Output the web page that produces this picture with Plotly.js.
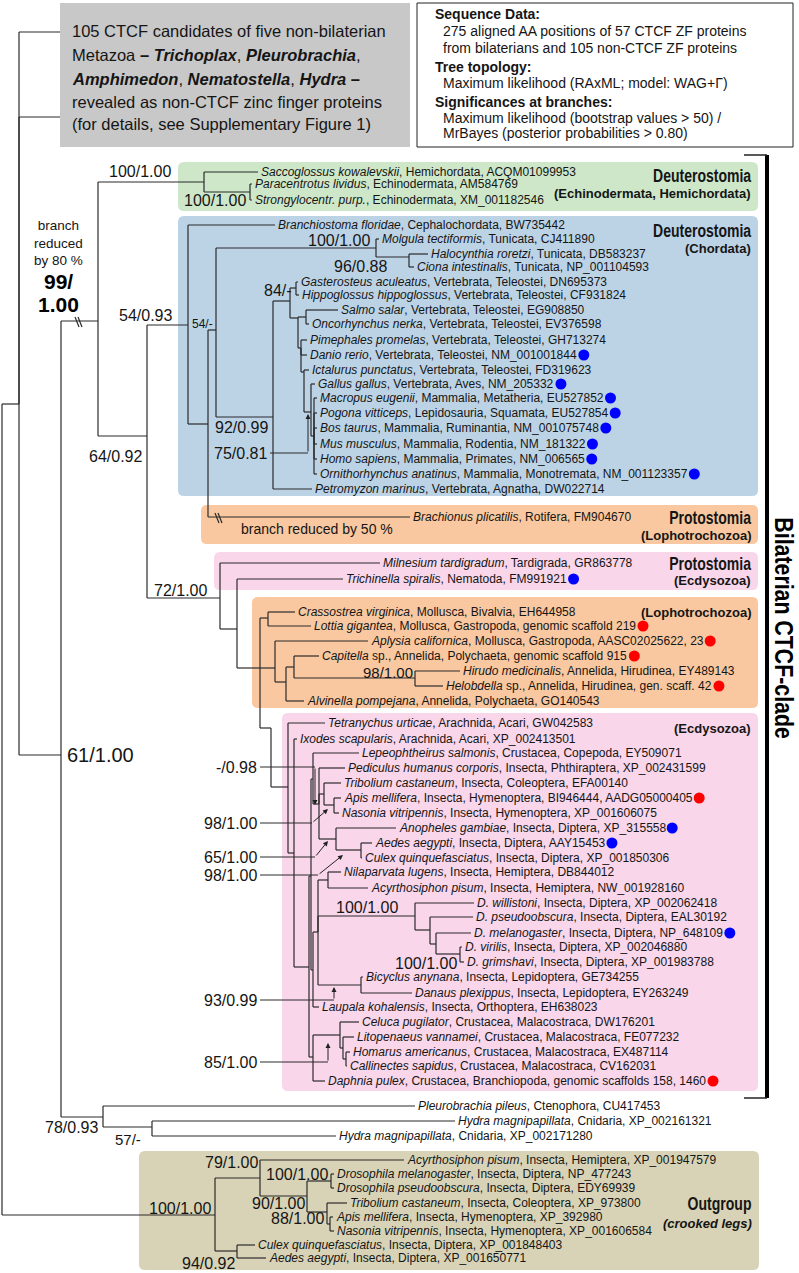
<!DOCTYPE html>
<html><head><meta charset="utf-8">
<script src="https://cdn.plot.ly/plotly-3.0.1.min.js"></script>
<style>html,body{margin:0;padding:0;background:#fff}#chart{width:799px;height:1273px}</style>
</head><body><div id="chart"></div>
<script>
// ===== Tree: internal nodes (id, parent, depth along branch axis, row) =====
const nodeIds = ['Root','Top','A','B','GR','PS','C','N','D','X','TUN','HC','V','V1','GH','V2','SO','V3','V4','TET','M1','F','G','H','CL','AG','AC','CH','HH','E0','T','I','K','M','Q','P','TAN','AN','MOS','AC2','S','R','NA','DW','DP','DM','DV','BD','CR','CLHC','LHC','HC2','W','HY','OG','O1','O2','DD','TANo','ANo','CA'];
const nodeParents = ['','Root','Top','A','B','GR','B','C','N','D','X','TUN','X','V','V1','V1','V2','V2','V3','V4','TET','C','F','G','H','H','AG','AC','CH','H','E0','T','I','K','M','Q','P','TAN','P','MOS','M','S','R','R','DW','DP','DM','R','K','CR','CLHC','LHC','A','W','Root','OG','O1','O2','O2','TANo','OG'];
const nodeDepth = [2,19,61,98,204,250,147,188,208,216,376,409,273,290,296,298,306,301,304,311,314,220,237,260,268,275,286,294,415,271,288,294,309,311,313,319,324,334,336,361,313,318,328,415,430,436,460,361,313,340,343,346,103,152,215,260,307,331,327,330,237];
const nodeRow = [810,404,755,321,182,192,436,325,424,330,248,257,417,301,288,318,317,348,372,412,436,598,629,668,618,668,682,667,678,728,787,853,967,876,779,804,794,805,839,850,970,932,880,916,930,944,954,985,1057,1035,1048,1059,1117,1127,1215,1178,1196,1181,1212,1224,1251];

// ===== Leaves =====
const leafSpecies = ['','',
'Saccoglossus kowalevskii','Paracentrotus lividus','Strongylocentr. purp.',
'Branchiostoma floridae','Molgula tectiformis','Halocynthia roretzi','Ciona intestinalis',
'Gasterosteus aculeatus','Hippoglossus hippoglossus','Salmo salar','Oncorhynchus nerka','Pimephales promelas','Danio rerio','Ictalurus punctatus',
'Gallus gallus','Macropus eugenii','Pogona vitticeps','Bos taurus','Mus musculus','Homo sapiens','Ornithorhynchus anatinus','Petromyzon marinus',
'Brachionus plicatilis',
'Milnesium tardigradum','Trichinella spiralis',
'Crassostrea virginica','Lottia gigantea','Aplysia californica','Capitella','Hirudo medicinalis','Helobdella','Alvinella pompejana',
'Tetranychus urticae','Ixodes scapularis','Lepeophtheirus salmonis','Pediculus humanus corporis','Tribolium castaneum','Apis mellifera','Nasonia vitripennis',
'Anopheles gambiae','Aedes aegypti','Culex quinquefasciatus','Nilaparvata lugens','Acyrthosiphon pisum',
'D. willistoni','D. pseudoobscura','D. melanogaster','D. virilis','D. grimshavi','Bicyclus anynana','Danaus plexippus','Laupala kohalensis',
'Celuca pugilator','Litopenaeus vannamei','Homarus americanus','Callinectes sapidus','Daphnia pulex',
'Pleurobrachia pileus','Hydra magnipapillata','Hydra magnipapillata',
'Acyrthosiphon pisum','Drosophila melanogaster','Drosophila pseudoobscura','Tribolium castaneum','Apis mellifera','Nasonia vitripennis','Culex quinquefasciatus','Aedes aegypti'];
const leafInfo = ['','',
', Hemichordata, ACQM01099953',', Echinodermata, AM584769',', Echinodermata, XM_001182546',
', Cephalochordata, BW735442',', Tunicata, CJ411890',', Tunicata, DB583237',', Tunicata, NP_001104593',
', Vertebrata, Teleostei, DN695373',', Vertebrata, Teleostei, CF931824',', Vertebrata, Teleostei, EG908850',', Vertebrata, Teleostei, EV376598',', Vertebrata, Teleostei, GH713274',', Vertebrata, Teleostei, NM_001001844',', Vertebrata, Teleostei, FD319623',
', Vertebrata, Aves, NM_205332',', Mammalia, Metatheria, EU527852',', Lepidosauria, Squamata, EU527854',', Mammalia, Ruminantia, NM_001075748',', Mammalia, Rodentia, NM_181322',', Mammalia, Primates, NM_006565',', Mammalia, Monotremata, NM_001123357',', Vertebrata, Agnatha, DW022714',
', Rotifera, FM904670',
', Tardigrada, GR863778',', Nematoda, FM991921',
', Mollusca, Bivalvia, EH644958',', Mollusca, Gastropoda, genomic scaffold 219',', Mollusca, Gastropoda, AASC02025622, 23',' sp., Annelida, Polychaeta, genomic scaffold 915',', Annelida, Hirudinea, EY489143',' sp., Annelida, Hirudinea, gen. scaff. 42',', Annelida, Polychaeta, GO140543',
', Arachnida, Acari, GW042583',', Arachnida, Acari, XP_002413501',', Crustacea, Copepoda, EY509071',', Insecta, Phthiraptera, XP_002431599',', Insecta, Coleoptera, EFA00140',', Insecta, Hymenoptera, BI946444, AADG05000405',', Insecta, Hymenoptera, XP_001606075',
', Insecta, Diptera, XP_315558',', Insecta, Diptera, AAY15453',', Insecta, Diptera, XP_001850306',', Insecta, Hemiptera, DB844012',', Insecta, Hemiptera, NW_001928160',
', Insecta, Diptera, XP_002062418',', Insecta, Diptera, EAL30192',', Insecta, Diptera, NP_648109',', Insecta, Diptera, XP_002046880',', Insecta, Diptera, XP_001983788',', Insecta, Lepidoptera, GE734255',', Insecta, Lepidoptera, EY263249',', Insecta, Orthoptera, EH638023',
', Crustacea, Malacostraca, DW176201',', Crustacea, Malacostraca, FE077232',', Crustacea, Malacostraca, EX487114',', Crustacea, Malacostraca, CV162031',', Crustacea, Branchiopoda, genomic scaffolds 158, 1460',
', Ctenophora, CU417453',', Cnidaria, XP_002161321',', Cnidaria, XP_002171280',
', Insecta, Hemiptera, XP_001947579',', Insecta, Diptera, NP_477243',', Insecta, Diptera, EDY69939',', Insecta, Coleoptera, XP_973800',', Insecta, Hymenoptera, XP_392980',', Insecta, Hymenoptera, XP_001606584',', Insecta, Diptera, XP_001848403',', Insecta, Diptera, XP_001650771'];
const leafParents = ['Top','Top',
'GR','PS','PS',
'N','TUN','HC','HC',
'GH','GH','SO','SO','V3','V3','V4',
'TET','M1','M1','M1','M1','M1','M1','V',
'D',
'F','G',
'CL','CL','AG','CH','HH','HH','AC',
'T','I','Q','P','TAN','AN','AN',
'MOS','AC2','AC2','NA','NA',
'DW','DP','DM','DV','DV','BD','BD','S',
'CLHC','LHC','HC2','HC2','CR',
'W','HY','HY',
'O1','DD','DD','TANo','ANo','ANo','CA','CA'];
const leafDepth = [60,60,
258,252,252,
275,379,428,414,
298,299,338,309,307,307,309,
315,317,317,317,317,317,317,312,
410,
380,343,
295,311,368,319,460,443,304,
325,297,359,345,341,341,339,
396,372,362,341,368,
474,473,471,462,464,363,412,319,
359,354,350,347,325,
415,455,336,
404,334,334,347,333,334,255,266];
const leafRow = [32,117,
172,184,200,
225,239,254,267,
282,295,310,324,340,355,370,
384,398,413,428,444,459,474,489,
517,
563,579,
612,626,641,656,671,686,701,
723,739,753,768,783,798,813,
828,843,858,872,888,
903,917,933,947,962,977,993,1007,
1022,1037,1052,1066,1081,
1106,1121,1136,
1160,1174,1188,1203,1217,1231,1245,1258];
// coloured dots after some leaves: b = blue, r = red
const leafMarker = ['','',
'','','',
'','','','',
'','','','','','b','',
'b','b','b','b','b','b','b','',
'',
'','b',
'','r','r','r','','r','',
'','','','','','r','',
'b','b','','','',
'','','b','','','','','',
'','','','','r',
'','','',
'','','','','','','',''];

// ===== Support values at branches =====
const supportText = ['100/1.00','100/1.00','54/0.93','64/0.92','100/1.00','96/0.88','84/-','54/-','92/0.99','72/1.00','98/1.00','100/1.00','100/1.00','61/1.00','78/0.93','57/-','79/1.00','100/1.00','90/1.00','88/1.00','100/1.00','94/0.92'];
const supportX = [139.5,246,145,115,370,387,292,213,241.5,180,413,366.5,457,67,98,115,258,266,305,324,211,235];
const supportY = [171,200,315,456,240,266,290,324,427,590,672,907,963,755,1127,1139,1162,1174,1203,1218,1208,1263];
const supportAlign = ['center','right','center','center','right','right','right','right','center','center','right','center','right','left','right','left','right','left','right','right','right','right'];
const supportSize = [16,16,16,16,16,16,16,12,16,16,15,16,16,20,16,15,16,16,16,16,16,16];

// support values attached by pointer arrows
const ptrText = ['-/0.98','98/1.00','65/1.00','98/1.00','93/0.99','85/1.00','75/0.81'];
const ptrRow = [767,823,857,875,1000,1062,453];
const ptrLabelEnd = [257,257,257,257,257,257,267];
const ptrElbow = [315,312,315,318,334,328,308];
const ptrTipX = [315,328,328,343,334,328,308];
const ptrTipY = [805,809,841,855,987,1043,414];

// shortened branches
const breakOn = ['B','Brachionus plicatilis'];
const breakDepth = [78,218];

// ===== Clade boxes =====
const boxX0 = [178,178,201,214,252,282,139];
const boxX1 = [758,758,758,758,758,758,759];
const boxY0 = [162,216,505,552,597,713,1151];
const boxY1 = [211,496,544,590,708,1091,1270];
const boxFill = ['#cee7c9','#bcd3e6','#f9c8a0','#f9d6ea','#f9c8a0','#f9d6ea','#d8d3b6'];
const cladeHead = ['Deuterostomia','Deuterostomia','Protostomia','Protostomia','','','Outgroup'];
const cladeSub = ['(Echinodermata, Hemichordata)','(Chordata)','(Lophotrochozoa)','(Ecdysozoa)','(Lophotrochozoa)','(Ecdysozoa)','<i>(crooked legs)</i>'];
const cladeHeadY = [175,230,517,563,0,0,1207];
const cladeSubY = [193,248,535,580,612,728,1222];

// ===== rendering =====
const FONT = 'Liberation Sans, Arial, Helvetica, sans-serif';
const TXT = '#151515';
const pos = {};
nodeIds.forEach((id,i)=>{pos[id]={x:nodeDepth[i],y:nodeRow[i]};});
leafSpecies.forEach((s,i)=>{ if(s && !pos[s]) pos[s]={x:leafDepth[i],y:leafRow[i]}; });

const tx=[], ty=[];
function seg(x0,y0,x1,y1){tx.push(x0,x1,null);ty.push(y0,y1,null);}
function link(par,x,y){const p=pos[par]; seg(p.x,p.y,p.x,y); seg(p.x,y,x,y);}
nodeIds.forEach((id,i)=>{ if(nodeParents[i]) link(nodeParents[i],nodeDepth[i],nodeRow[i]); });
leafSpecies.forEach((s,i)=>link(leafParents[i],leafDepth[i],leafRow[i]));

// break marks
const bx=[], by=[];
breakOn.forEach((id,i)=>{ const y=pos[id].y, x=breakDepth[i];
  for(let k=0;k<2;k++){ bx.push(x-3+3*k,x+1+3*k,null); by.push(y-4,y+6,null);} });

// pointer lines
const px=[], py=[];
ptrText.forEach((t,i)=>{ px.push(ptrLabelEnd[i]+3,ptrElbow[i],null); py.push(ptrRow[i],ptrRow[i],null); });

// text measurement
const ctx=document.createElement('canvas').getContext('2d');
function measure(str,style,size){ctx.font=(style?style+' ':'')+(size||12)+'px "Liberation Sans", Arial, sans-serif';return ctx.measureText(str).width;}

const annotations=[];
function ann(text,x,y,o){annotations.push(Object.assign({text:text,x:x,y:y,xref:'x',yref:'y',showarrow:false,xanchor:'left',yanchor:'middle',font:{family:FONT,size:12,color:TXT}},o||{}));}

const dx=[],dy=[],dc=[];
leafSpecies.forEach((s,i)=>{
  if(!s) return;
  ann('<i>'+s+'</i>'+leafInfo[i], leafDepth[i]+1, leafRow[i]);
  if(leafMarker[i]){
    const w=measure(s,'italic')+measure(leafInfo[i],'');
    dx.push(leafDepth[i]+3+w+7); dy.push(leafRow[i]); dc.push(leafMarker[i]==='b'?'#0000ff':'#ff0000');
  }
});

supportText.forEach((t,i)=>ann(t,supportX[i]+(supportAlign[i]==='left'?-2:supportAlign[i]==='right'?2:0),supportY[i],{xanchor:supportAlign[i],font:{family:FONT,size:supportSize[i],color:TXT}}));
ptrText.forEach((t,i)=>{
  ann(t,ptrLabelEnd[i]+2,ptrRow[i],{xanchor:'right',font:{family:FONT,size:16,color:TXT}});
  annotations.push({x:ptrTipX[i],y:ptrTipY[i],ax:ptrElbow[i],ay:ptrRow[i],xref:'x',yref:'y',axref:'x',ayref:'y',text:'',showarrow:true,arrowhead:2,arrowsize:1,arrowwidth:1,arrowcolor:'#222',standoff:0,startstandoff:0});
});

// special texts
ann('branch<br>reduced<br>by 80 %',58,243,{xanchor:'center',font:{family:FONT,size:13.5,color:TXT}});
ann('<b>99/</b>',58,293,{xanchor:'center',yanchor:'bottom',borderpad:0,borderwidth:0,font:{family:FONT,size:21,color:'#000'}});
ann('<b>1.00</b>',58,293,{xanchor:'center',yanchor:'top',borderpad:0,borderwidth:0,font:{family:FONT,size:21,color:'#000'}});
ann('branch reduced by 50 %',239,529,{font:{family:FONT,size:14,color:TXT}});

// header boxes text
const grayLines=['105 CTCF candidates of five non-bilaterian','Metazoa <b>–</b> <b><i>Trichoplax</i></b>, <b><i>Pleurobrachia</i></b>,','<b><i>Amphimedon</i></b>, <b><i>Nematostella</i></b>, <b><i>Hydra</i></b> <b>–</b>','revealed as non-CTCF zinc finger proteins','(for details, see Supplementary Figure 1)'];
const grayY=[31,55,79,102,124];
grayLines.forEach((t,i)=>ann(t,70,grayY[i],{font:{family:FONT,size:16.5,color:TXT}}));
const infoLines=['<b>Sequence Data:</b>','275 aligned AA positions of 57 CTCF ZF proteins','from bilaterians and 105 non-CTCF ZF proteins','<b>Tree topology:</b>','Maximum likelihood (RAxML; model: WAG+Γ)','<b>Significances at branches:</b>','Maximum likelihood (bootstrap values &gt; 50) /','MrBayes (posterior probabilities &gt; 0.80)'];
const infoIndent=[0,1,1,0,1,0,1,1];
const infoY=[14,31,48,67,83,102,118,133];
infoLines.forEach((t,i)=>ann(t,433+infoIndent[i]*8,infoY[i],{font:{family:FONT,size:14,color:TXT}}));

// clade labels (headers are set in a condensed bold face)
const narrowSpec = {};
cladeHead.forEach((t,i)=>{ if(!t) return;
  const twoLine = (i===6);
  ann('<b>'+t+'</b>',753,twoLine?1215:cladeHeadY[i],{xanchor:'right',yanchor:twoLine?'bottom':'middle',borderpad:twoLine?0:1,font:{family:FONT,size:19,color:TXT}});
  narrowSpec[t]={size:19,align:'right',ratio:0.74};
});
cladeSub.forEach((t,i)=>{
  const twoLine = (i===6);
  ann('<b>'+t+'</b>',753,twoLine?1215:cladeSubY[i],{xanchor:'right',yanchor:twoLine?'top':'middle',borderpad:twoLine?0:1,font:{family:FONT,size:13,color:TXT}});
});
ann('<b>Bilaterian CTCF-clade</b>',784,628,{xanchor:'center',textangle:90,font:{family:FONT,size:26,color:'#000'}});
narrowSpec['Bilaterian CTCF-clade']={size:26,align:'center',ratio:0.82};

// shapes
function rr(x0,x1,y0,y1,r){return `M${x0+r},${y0} L${x1-r},${y0} Q${x1},${y0} ${x1},${y0+r} L${x1},${y1-r} Q${x1},${y1} ${x1-r},${y1} L${x0+r},${y1} Q${x0},${y1} ${x0},${y1-r} L${x0},${y0+r} Q${x0},${y0} ${x0+r},${y0} Z`;}
const shapes=[];
boxX0.forEach((x,i)=>shapes.push({type:'path',xref:'x',yref:'y',path:rr(x,boxX1[i],boxY0[i],boxY1[i],6),fillcolor:boxFill[i],line:{width:0},layer:'below'}));
shapes.push({type:'rect',xref:'x',yref:'y',x0:60,x1:410,y0:3,y1:147,fillcolor:'#c8c8c8',line:{width:0},layer:'below'});
shapes.push({type:'rect',xref:'x',yref:'y',x0:417,x1:793,y0:3,y1:147,fillcolor:'#ffffff',line:{width:1,color:'#222'},layer:'below'});

const traces=[
 {type:'scatter',mode:'lines',x:tx,y:ty,line:{color:'#2a2a2a',width:1.2},hoverinfo:'skip',cliponaxis:false},
 {type:'scatter',mode:'lines',x:bx,y:by,line:{color:'#2a2a2a',width:1.2},hoverinfo:'skip',cliponaxis:false},
 {type:'scatter',mode:'lines',x:px,y:py,line:{color:'#2a2a2a',width:1},hoverinfo:'skip'},
 {type:'scatter',mode:'lines',x:[767,767],y:[155,1098],line:{color:'#000',width:4},hoverinfo:'skip'},
 {type:'scatter',mode:'lines',x:[744,767,null,744,767],y:[155,155,null,1098,1098],line:{color:'#222',width:1.5},hoverinfo:'skip'},
 {type:'scatter',mode:'markers',x:dx,y:dy,marker:{color:dc,size:11,line:{width:0}},hoverinfo:'skip'}
];
const layout={width:799,height:1273,margin:{l:0,r:0,t:0,b:0},paper_bgcolor:'#fff',plot_bgcolor:'#fff',showlegend:false,hovermode:false,
 xaxis:{range:[0,799],visible:false,fixedrange:true},yaxis:{range:[1273,0],visible:false,fixedrange:true},
 shapes:shapes,annotations:annotations};
Plotly.newPlot('chart',traces,layout,{staticPlot:true,displayModeBar:false}).then(()=>{
  // condense the bold header texts horizontally (narrow bold face look)
  document.querySelectorAll('text.annotation-text').forEach(t=>{
    const spec = narrowSpec[t.textContent];
    if(!spec) return;
    const bb = t.getBBox();
    const target = measure(t.textContent,'bold',spec.size)*spec.ratio;
    const s = Math.min(1, target/bb.width);
    const ax = spec.align==='right' ? bb.x+bb.width : bb.x+bb.width/2;
    const prev = t.getAttribute('transform')||'';
    t.setAttribute('transform', (prev+' translate('+(ax*(1-s))+',0) scale('+s+',1)').trim());
  });
});
</script></body></html>
